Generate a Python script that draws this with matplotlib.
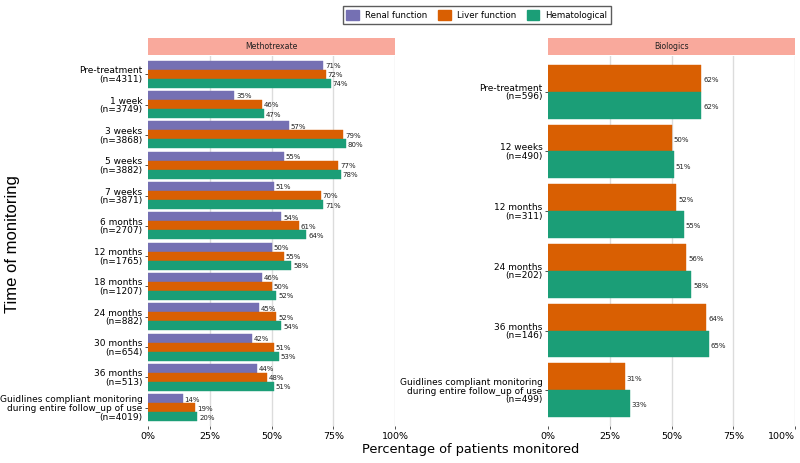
import matplotlib.pyplot as plt
from matplotlib.patches import Patch

# ---- data ----
mtx_labels = ['Pre-treatment\n(n=4311)', '1 week\n(n=3749)', '3 weeks\n(n=3868)',
              '5 weeks\n(n=3882)', '7 weeks\n(n=3871)', '6 months\n(n=2707)',
              '12 months\n(n=1765)', '18 months\n(n=1207)', '24 months\n(n=882)',
              '30 months\n(n=654)', '36 months\n(n=513)',
              'Guidlines compliant monitoring\nduring entire follow_up of use\n(n=4019)']
mtx_renal = [71, 35, 57, 55, 51, 54, 50, 46, 45, 42, 44, 14]
mtx_liver = [72, 46, 79, 77, 70, 61, 55, 50, 52, 51, 48, 19]
mtx_hema = [74, 47, 80, 78, 71, 64, 58, 52, 54, 53, 51, 20]

bio_labels = ['Pre-treatment\n(n=596)', '12 weeks\n(n=490)', '12 months\n(n=311)',
              '24 months\n(n=202)', '36 months\n(n=146)',
              'Guidlines compliant monitoring\nduring entire follow_up of use\n(n=499)']
bio_liver = [62, 50, 52, 56, 64, 31]
bio_hema = [62, 51, 55, 58, 65, 33]

series_names = ['Renal function', 'Liver function', 'Hematological']
colors = ['#7570B3', '#D95F02', '#1B9E77']
strip_color = '#F9A99C'
grid_color = '#DCDCDC'

plt.rcParams['font.family'] = 'DejaVu Sans'

fig = plt.figure(figsize=(8, 4.63), dpi=100)
W, H = 800, 463


def px_axes(x0, y0, x1, y1):
    return fig.add_axes([x0 / W, 1 - y1 / H, (x1 - x0) / W, (y1 - y0) / H])


def panel(ax, labels, series, cols, title, strip_ax):
    n = len(labels)
    k = len(series)
    h = 0.9 / k
    for j, (vals, c) in enumerate(zip(series, cols)):
        ys = [i - 0.45 + h * (j + 0.5) for i in range(n)]
        ax.barh(ys, vals, height=h, color=c, edgecolor=c, linewidth=0.3, zorder=2)
        for y, v in zip(ys, vals):
            ax.text(v + 0.8, y + 0.03, f'{v}%', fontsize=5.0, va='center',
                    ha='left', color='#222222', zorder=3)
    ax.set_xlim(0, 100)
    ax.set_ylim(n - 1 + 0.6, -0.6)
    ax.set_yticks(range(n))
    ax.set_yticklabels(labels, fontsize=6.5, linespacing=0.95)
    ax.set_xticks([0, 25, 50, 75, 100])
    ax.set_xticklabels(['0%', '25%', '50%', '75%', '100%'], fontsize=6.8)
    ax.tick_params(length=2.5, width=0.6, color='#333333', pad=1.5)
    for s in ax.spines.values():
        s.set_visible(False)
    for g in [25, 50, 75, 100]:
        ax.axvline(g, color=grid_color, lw=1.0, zorder=0)
    strip_ax.set_facecolor(strip_color)
    strip_ax.set_xticks([])
    strip_ax.set_yticks([])
    for s in strip_ax.spines.values():
        s.set_visible(False)
    strip_ax.text(0.5, 0.5, title, fontsize=5.6, ha='center', va='center',
                  color='#222222', transform=strip_ax.transAxes)


ax1 = px_axes(148, 56, 395, 426)
st1 = px_axes(148, 38, 395, 55)
panel(ax1, mtx_labels, [mtx_renal, mtx_liver, mtx_hema], colors, 'Methotrexate', st1)

ax2 = px_axes(548, 56, 795, 426)
st2 = px_axes(548, 38, 795, 55)
panel(ax2, bio_labels, [bio_liver, bio_hema], colors[1:], 'Biologics', st2)
# keep the last tick label inside the figure edge
ax2.get_xticklabels()[-1].set_ha('right')

fig.text(471 / W, 1 - 450 / H, 'Percentage of patients monitored', fontsize=9.3,
         ha='center', va='center')
fig.text(13 / W, 1 - 244 / H, 'Time of monitoring', fontsize=12, rotation=90,
         ha='center', va='center', family='Liberation Sans')

handles = [Patch(facecolor=c, edgecolor=c) for c in colors]
leg = fig.legend(handles, series_names, loc='center', bbox_to_anchor=(477 / W, 1 - 15 / H),
                 ncol=3, fontsize=6.2, frameon=True, fancybox=False,
                 handlelength=1.5, handleheight=1.5, handletextpad=0.7,
                 columnspacing=1.2, borderpad=0.45)
leg.get_frame().set_edgecolor('#333333')
leg.get_frame().set_linewidth(1.0)

fig.savefig('out.png', dpi=100)
